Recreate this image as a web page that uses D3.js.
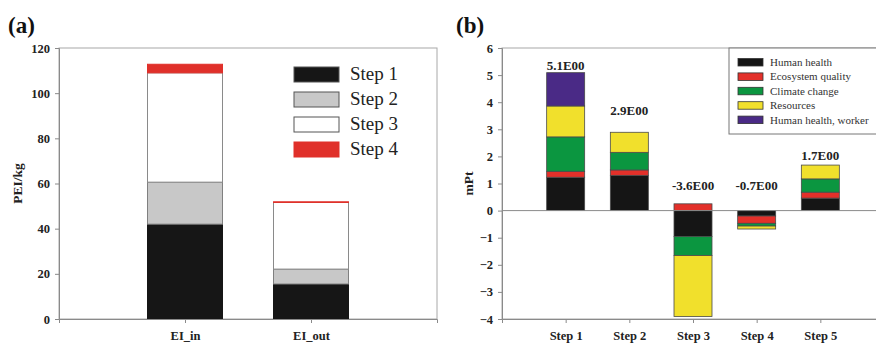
<!DOCTYPE html>
<html>
<head>
<meta charset="utf-8">
<script src="https://cdn.jsdelivr.net/npm/d3@7"></script>
<style>
  body { margin: 0; background: #fff; }
  svg, svg text { font-family: "Liberation Serif", "Times New Roman", Times, "DejaVu Serif", serif !important; }
</style>
</head>
<body>
<svg id="chart" width="876" height="343"></svg>
<script>
// ---- panel (a) data ----
const aCategories = ["EI_in", "EI_out"];
const aSteps = ["Step 1", "Step 2", "Step 3", "Step 4"];
const aStep1 = [42.0, 15.5];
const aStep2 = [18.6, 6.6];
const aStep3 = [48.4, 29.5];
const aStep4 = [3.8, 0.3];
const aTicks = [0, 20, 40, 60, 80, 100, 120];

// ---- panel (b) data ----
const bSteps = ["Step 1", "Step 2", "Step 3", "Step 4", "Step 5"];
const bSeries = ["Human health", "Ecosystem quality", "Climate change", "Resources", "Human health, worker"];
const humanHealth = [1.23, 1.30, -0.96, -0.20, 0.46];
const ecosystem   = [0.22, 0.20, 0.25, -0.27, 0.22];
const climate     = [1.27, 0.65, -0.70, -0.10, 0.49];
const resources   = [1.14, 0.74, -2.25, -0.11, 0.51];
const worker      = [1.23, 0, 0, 0, 0];
const totalLabels = ["5.1E00", "2.9E00", "-3.6E00", "-0.7E00", "1.7E00"];
const labelAt     = [5.19, 3.53, 0.76, 0.76, 1.87]; // mPt height of label baseline
const bTicks = [-4, -3, -2, -1, 0, 1, 2, 3, 4, 5, 6];

const svg = d3.select("#chart");
const axisGray = "#8a8a8a";
const serif = '"Liberation Serif", "Times New Roman", Times, "DejaVu Serif", serif';

const styleTicks = a => {
  a.attr("font-family", serif);
  a.select(".domain").attr("stroke", axisGray);
  a.selectAll(".tick line").attr("stroke", axisGray);
  a.selectAll("text").attr("font-size", 12.5).attr("font-weight", "bold").attr("fill", "#222");
};

// ================= panel (a) =================
{
  const left = 59, right = 437, top = 48, bottom = 319;
  const g = svg.append("g");
  const y = d3.scaleLinear().domain([0, 120]).range([bottom, top]);
  const x = d3.scalePoint().domain(aCategories).range([left, right]).padding(1);
  const bw = 75;

  const colors = ["#161616", "#c8c8c8", "#ffffff", "#e0302a"];
  const strokes = ["#161616", "#808080", "#8a8a8a", "#e0302a"];

  const rows = aCategories.map((c, i) => ({cat: c, s0: aStep1[i], s1: aStep2[i], s2: aStep3[i], s3: aStep4[i]}));
  const stack = d3.stack().keys(["s0", "s1", "s2", "s3"])(rows);

  g.append("rect").attr("x", left).attr("y", top).attr("width", right - left).attr("height", bottom - top)
    .attr("fill", "none").attr("stroke", "#a8a8a8").attr("stroke-width", 1);

  stack.forEach((layer, li) => {
    g.selectAll(null).data(layer).join("rect")
      .attr("x", d => x(d.data.cat) - bw / 2)
      .attr("y", d => y(d[1]))
      .attr("width", bw)
      .attr("height", d => y(d[0]) - y(d[1]))
      .attr("fill", colors[li])
      .attr("stroke", strokes[li])
      .attr("stroke-width", 1);
  });

  g.append("g").attr("transform", `translate(${left},0)`)
    .call(d3.axisLeft(y).tickValues(aTicks).tickSize(4).tickPadding(5)).call(styleTicks);

  g.append("g").attr("transform", `translate(0,${bottom})`)
    .call(d3.axisBottom(x).tickSize(4).tickPadding(8)).call(styleTicks);

  g.append("text").attr("transform", `translate(22,${(top + bottom) / 2}) rotate(-90)`)
    .attr("text-anchor", "middle").attr("font-size", 13.5).attr("font-weight", "bold").attr("fill", "#222")
    .text("PEI/kg");

  // legend
  const lg = g.append("g");
  aSteps.forEach((s, i) => {
    const yy = 67 + i * 25;
    lg.append("rect").attr("x", 294).attr("y", yy).attr("width", 45).attr("height", 15)
      .attr("fill", colors[i]).attr("stroke", i === 3 ? colors[3] : "#555").attr("stroke-width", 1);
    lg.append("text").attr("x", 350).attr("y", yy + 13).attr("font-size", 19).attr("fill", "#222").text(s);
  });

  svg.append("text").attr("x", 8).attr("y", 33).attr("font-size", 23).attr("font-weight", "bold").attr("fill", "#111").text("(a)");
}

// ================= panel (b) =================
{
  const left = 502, right = 884, top = 48, bottom = 319;
  const g = svg.append("g");
  const y = d3.scaleLinear().domain([-4, 6]).range([bottom, top]);
  const x = d3.scalePoint().domain(bSteps).range([left, right]).padding(1);
  const bw = 38;
  const colors = ["#151515", "#e3302a", "#0b9640", "#f1e02c", "#4a2a86"];

  const rows = bSteps.map((s, i) => ({
    step: s,
    [bSeries[0]]: humanHealth[i],
    [bSeries[1]]: ecosystem[i],
    [bSeries[2]]: climate[i],
    [bSeries[3]]: resources[i],
    [bSeries[4]]: worker[i]
  }));
  const stack = d3.stack().keys(bSeries).offset(d3.stackOffsetDiverging)(rows);

  g.append("rect").attr("x", left).attr("y", top).attr("width", right - left).attr("height", bottom - top)
    .attr("fill", "none").attr("stroke", "#a8a8a8").attr("stroke-width", 1);

  stack.forEach((layer, li) => {
    g.selectAll(null).data(layer.filter(d => d[1] !== d[0])).join("rect")
      .attr("x", d => x(d.data.step) - bw / 2)
      .attr("y", d => y(Math.max(d[0], d[1])))
      .attr("width", bw)
      .attr("height", d => Math.abs(y(d[0]) - y(d[1])))
      .attr("fill", colors[li])
      .attr("stroke", "#4a4a4a")
      .attr("stroke-width", 0.8);
  });

  // zero line
  g.append("line").attr("x1", left).attr("x2", right).attr("y1", y(0)).attr("y2", y(0))
    .attr("stroke", axisGray).attr("stroke-width", 1);

  g.selectAll(null).data(bSteps).join("text")
    .attr("x", d => x(d))
    .attr("y", (d, i) => y(labelAt[i]))
    .attr("text-anchor", "middle").attr("font-size", 13).attr("font-weight", "bold").attr("fill", "#222")
    .text((d, i) => totalLabels[i]);

  g.append("g").attr("transform", `translate(${left},0)`)
    .call(d3.axisLeft(y).tickValues(bTicks).tickSize(4).tickPadding(5)).call(styleTicks);

  g.append("g").attr("transform", `translate(0,${bottom})`)
    .call(d3.axisBottom(x).tickSize(4).tickPadding(8)).call(styleTicks);

  g.append("text").attr("transform", `translate(473,${(top + bottom) / 2}) rotate(-90)`)
    .attr("text-anchor", "middle").attr("font-size", 13.5).attr("font-weight", "bold").attr("fill", "#222")
    .text("mPt");

  // legend
  const lg = g.append("g");
  lg.append("rect").attr("x", 729).attr("y", top).attr("width", 160).attr("height", 86)
    .attr("fill", "#fff").attr("stroke", "#777").attr("stroke-width", 1);
  bSeries.forEach((s, i) => {
    const yy = 58.5 + i * 14.4;
    lg.append("rect").attr("x", 738).attr("y", yy).attr("width", 25).attr("height", 7.5)
      .attr("fill", colors[i]).attr("stroke", "#333").attr("stroke-width", 0.8);
    lg.append("text").attr("x", 770).attr("y", yy + 7.5).attr("font-size", 11).attr("fill", "#333").text(s);
  });

  svg.append("text").attr("x", 456).attr("y", 33).attr("font-size", 23).attr("font-weight", "bold").attr("fill", "#111").text("(b)");
}
</script>
</body>
</html>
